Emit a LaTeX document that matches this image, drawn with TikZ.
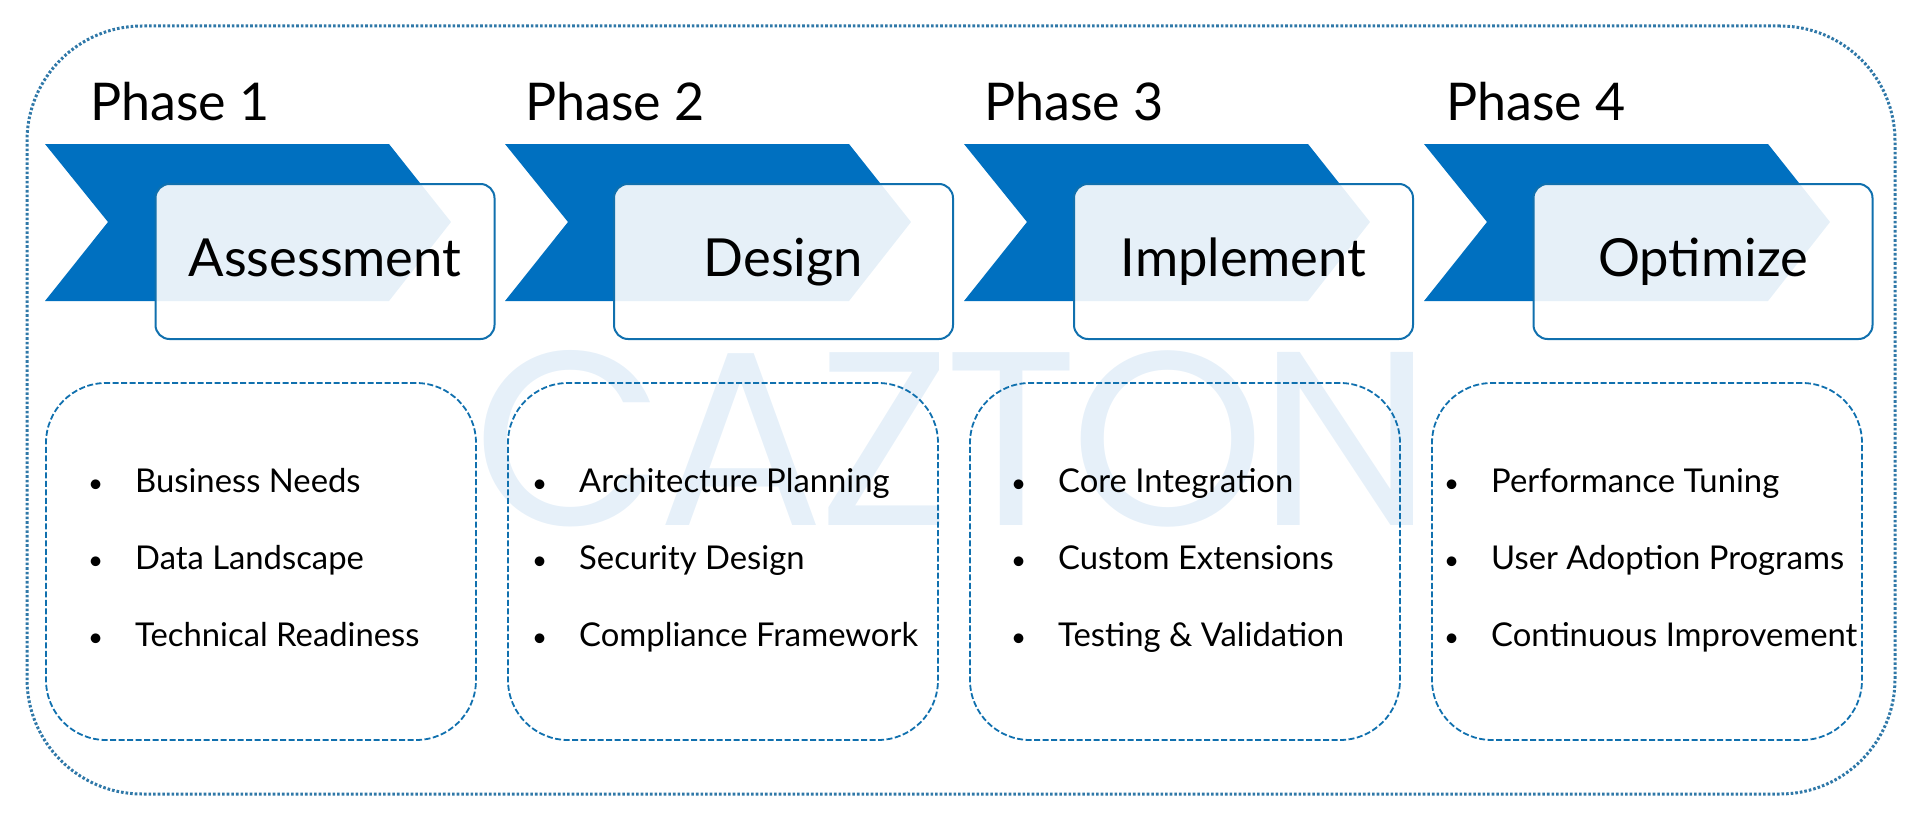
\documentclass[tikz,border=0pt]{standalone}
\usepackage{fontspec}
\usepackage{tikz}
\usetikzlibrary{positioning}
\setmainfont{Lato}
\newfontfamily\markfont[LetterSpace=-3]{Poppins}
\definecolor{phaseblue}{HTML}{0070C0}
\definecolor{edgeblue}{HTML}{1070AE}
\definecolor{frameblue}{HTML}{2F78A8}
\definecolor{markblue}{HTML}{E6F0F9}
\newcommand{\itembullet}{\makebox[47pt][l]{\fontsize{26}{26}\selectfont\textbullet}}
\tikzset{
	chevron/.style= {fill= phaseblue},
	phasetitle/.style= {anchor= base west, inner sep= 0pt, font= \fontsize{52}{52}\selectfont},
	phasebox/.style= {draw= edgeblue, line width= 2pt, fill= white, fill opacity= 0.9, draw opacity= 1, text opacity= 1, rounded corners= 14pt,
		minimum width= 339pt, minimum height= 155pt, text height= 37pt, text depth= 7pt, font= \fontsize{52.5}{52.5}\selectfont},
	listbox/.style= {draw= edgeblue, line width= 1.8pt, dash pattern= on 6pt off 2.5pt, rounded corners= 60pt, minimum width= 430pt, minimum height= 357pt},
	itemtext/.style= {inner sep= 0pt, text height= 23pt, text depth= 7pt, font= \fontsize{32.8}{32.8}\selectfont},
}
\begin{document}
\begin{tikzpicture}[x= 1pt, y= -1pt]
	\useasboundingbox (0,0) rectangle (1919,816);
	% watermark first, everything else lies over it
	\node (mark) [inner sep= 0pt, text= markblue, font= \fontsize{248}{248}\markfont] at (953,439) {CAZTON};
	\node (frame) [draw= frameblue, line width= 3pt, dash pattern= on 2.6pt off 2pt, rounded corners= 115pt, minimum width= 1868pt, minimum height= 768pt] at (961,410) {};

	% phase 1
	\node (title1) [phasetitle] at (90,120) {Phase 1};
	\fill[chevron] (45,144) -- ++(344,0) -- ++(62,78) -- ++(-62,79) -- ++(-344,0) -- ++(63,-79) -- cycle;
	\node (box1) [phasebox] at (325,261.5) {Assessment};
	\node (list1) [listbox] at (261,561.5) {};
	\node (a1) [itemtext, anchor= west] at (88,484) {\itembullet Business Needs};
	\node (a2) [itemtext, below= 77pt of a1.west, anchor= west] {\itembullet Data Landscape};
	\node (a3) [itemtext, below= 77pt of a2.west, anchor= west] {\itembullet Technical Readiness};

	% phase 2
	\node (title2) [phasetitle] at (525,120) {Phase 2};
	\fill[chevron] (505,144) -- ++(344,0) -- ++(62,78) -- ++(-62,79) -- ++(-344,0) -- ++(63,-79) -- cycle;
	\node (box2) [phasebox] at (783.5,261.5) {Design};
	\node (list2) [listbox] at (723,561.5) {};
	\node (b1) [itemtext, anchor= west] at (532,484) {\itembullet Architecture Planning};
	\node (b2) [itemtext, below= 77pt of b1.west, anchor= west] {\itembullet Security Design};
	\node (b3) [itemtext, below= 77pt of b2.west, anchor= west] {\itembullet Compliance Framework};

	% phase 3
	\node (title3) [phasetitle] at (984,120) {Phase 3};
	\fill[chevron] (964,144) -- ++(344,0) -- ++(62,78) -- ++(-62,79) -- ++(-344,0) -- ++(63,-79) -- cycle;
	\node (box3) [phasebox] at (1243.5,261.5) {Implement};
	\node (list3) [listbox] at (1185,561.5) {};
	\node (c1) [itemtext, anchor= west] at (1011,484) {\itembullet Core Integration};
	\node (c2) [itemtext, below= 77pt of c1.west, anchor= west] {\itembullet Custom Extensions};
	\node (c3) [itemtext, below= 77pt of c2.west, anchor= west] {\itembullet Testing \& Validation};

	% phase 4
	\node (title4) [phasetitle] at (1446,120) {Phase 4};
	\fill[chevron] (1424,144) -- ++(344,0) -- ++(62,78) -- ++(-62,79) -- ++(-344,0) -- ++(63,-79) -- cycle;
	\node (box4) [phasebox] at (1703,261.5) {Optimize};
	\node (list4) [listbox] at (1647,561.5) {};
	\node (d1) [itemtext, anchor= west] at (1444,484) {\itembullet Performance Tuning};
	\node (d2) [itemtext, below= 77pt of d1.west, anchor= west] {\itembullet User Adoption Programs};
	\node (d3) [itemtext, below= 77pt of d2.west, anchor= west] {\itembullet Continuous Improvement};
\end{tikzpicture}
\end{document}
